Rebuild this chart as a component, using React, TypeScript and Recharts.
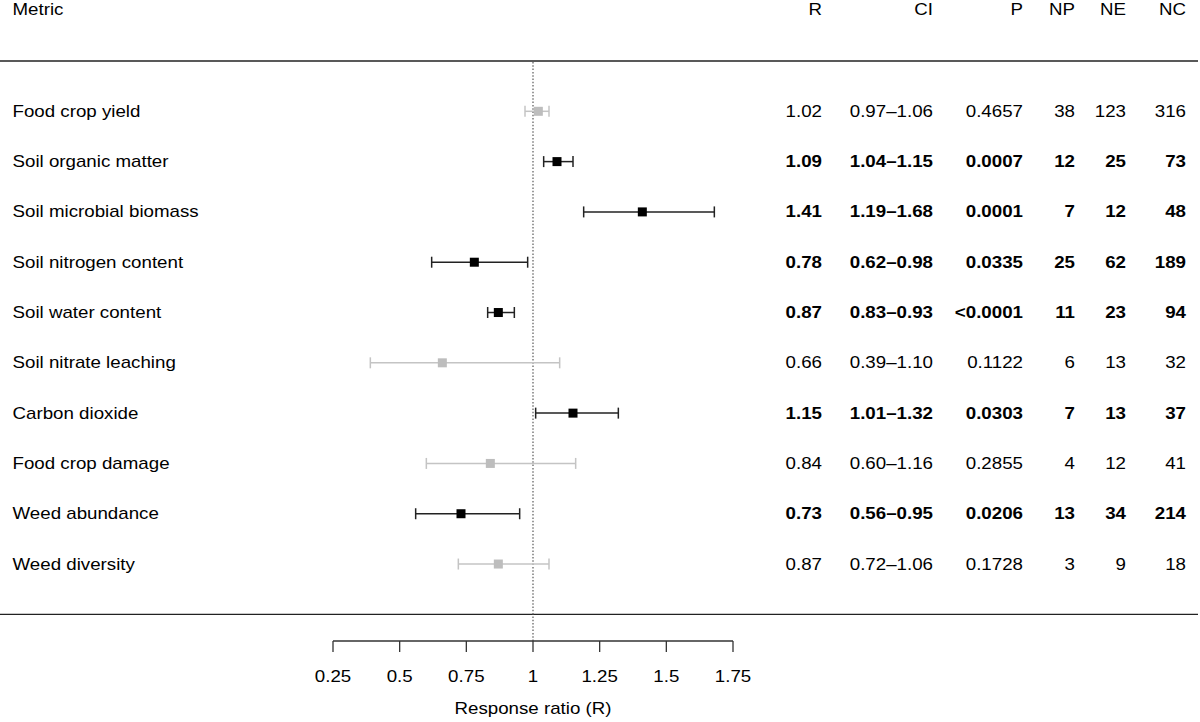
import React from "react";
import {
  ScatterChart,
  Scatter,
  XAxis,
  YAxis,
  ErrorBar,
  ReferenceLine,
} from "recharts";

// forest plot data, one entry per row
const metrics = [
  "Food crop yield",
  "Soil organic matter",
  "Soil microbial biomass",
  "Soil nitrogen content",
  "Soil water content",
  "Soil nitrate leaching",
  "Carbon dioxide",
  "Food crop damage",
  "Weed abundance",
  "Weed diversity",
];
const ratio = [1.02, 1.09, 1.41, 0.78, 0.87, 0.66, 1.15, 0.84, 0.73, 0.87];
const ciLow = [0.97, 1.04, 1.19, 0.62, 0.83, 0.39, 1.01, 0.6, 0.56, 0.72];
const ciHigh = [1.06, 1.15, 1.68, 0.98, 0.93, 1.1, 1.32, 1.16, 0.95, 1.06];
const pValues = ["0.4657", "0.0007", "0.0001", "0.0335", "<0.0001", "0.1122", "0.0303", "0.2855", "0.0206", "0.1728"];
const nP = [38, 12, 7, 25, 11, 6, 7, 4, 13, 3];
const nE = [123, 25, 12, 62, 23, 13, 13, 12, 34, 9];
const nC = [316, 73, 48, 189, 94, 32, 37, 41, 214, 18];
const xTicks = [0.25, 0.5, 0.75, 1, 1.25, 1.5, 1.75];

const W = 1200;
const H = 722;
const FONT = '"Liberation Sans", Arial, Helvetica, sans-serif';
const SX = 1.17; // the source text is a bit wide

const rows = metrics.map((name, i) => ({
  row: i + 1,
  name,
  r: ratio[i],
  err: [ratio[i] - ciLow[i], ciHigh[i] - ratio[i]],
  sig: ciLow[i] > 1 || ciHigh[i] < 1,
}));
const sigRows = rows.filter((d) => d.sig);
const nsRows = rows.filter((d) => !d.sig);

// right edges of the table columns
const cols = [
  { key: "R", x: 822 },
  { key: "CI", x: 933 },
  { key: "P", x: 1023 },
  { key: "NP", x: 1075 },
  { key: "NE", x: 1126 },
  { key: "NC", x: 1186 },
];

function Txt({ x, y, anchor = "start", bold = false, children }: any) {
  return (
    <g transform={`translate(${x},${y}) scale(${SX},1)`}>
      <text x={0} y={0} textAnchor={anchor} fontSize={16} fontFamily={FONT} fontWeight={bold ? 700 : 400} fill="#000">
        {children}
      </text>
    </g>
  );
}

function RowTick(props: any) {
  const i = props.payload.value - 1;
  const d = rows[i];
  if (!d) return null;
  const y = props.y + 5.5;
  const cells = [
    ratio[i].toFixed(2),
    `${ciLow[i].toFixed(2)}–${ciHigh[i].toFixed(2)}`,
    pValues[i],
    String(nP[i]),
    String(nE[i]),
    String(nC[i]),
  ];
  return (
    <g>
      <Txt x={12.5} y={y}>{d.name}</Txt>
      {cells.map((c, k) => (
        <Txt key={k} x={cols[k].x} y={y} anchor="end" bold={d.sig}>
          {c}
        </Txt>
      ))}
    </g>
  );
}

function XTick(props: any) {
  return (
    <Txt x={props.x} y={props.y + 29.5} anchor="middle">
      {String(props.payload.value)}
    </Txt>
  );
}

function Square(color: string) {
  return (props: any) => (
    <rect x={props.cx - 4.5} y={props.cy - 4.5} width={9} height={9} fill={color} />
  );
}

const fullRule = (p: any) => (
  <line x1={0} x2={1198} y1={p.y1} y2={p.y1} stroke="#222" strokeWidth={1.4} />
);

export default function App() {
  return (
    <div style={{ position: "absolute", left: 0, top: 0, width: W, height: H, background: "#fff" }}>
      <ScatterChart width={W} height={H} margin={{ top: 61, right: 467, bottom: 0, left: 0 }}>
        <XAxis
          type="number"
          dataKey="r"
          domain={[0.25, 1.75]}
          ticks={xTicks}
          allowDataOverflow
          height={81}
          tickSize={11}
          tickMargin={0}
          stroke="#333"
          strokeWidth={1.3}
          tick={<XTick />}
          label={{
            content: (lp: any) => (
              <Txt x={lp.viewBox.x + lp.viewBox.width / 2} y={714} anchor="middle">
                Response ratio (R)
              </Txt>
            ),
          }}
        />
        <YAxis
          type="number"
          dataKey="row"
          domain={[0, 11.53]}
          reversed
          ticks={[1, 2, 3, 4, 5, 6, 7, 8, 9, 10]}
          width={333}
          axisLine={false}
          tickLine={false}
          tick={<RowTick />}
          interval={0}
        />
        <ReferenceLine y={0} shape={fullRule} />
        <ReferenceLine y={11} shape={fullRule} />
        <ReferenceLine x={1} stroke="#666" strokeWidth={1.3} strokeDasharray="1.5 1.8" />
        <Scatter data={nsRows} shape={Square("#bdbdbd")} isAnimationActive={false}>
          <ErrorBar dataKey="err" direction="x" width={5.5} stroke="#c4c4c4" strokeWidth={1.5} />
        </Scatter>
        <Scatter data={sigRows} shape={Square("#000")} isAnimationActive={false}>
          <ErrorBar dataKey="err" direction="x" width={5.5} stroke="#222" strokeWidth={1.5} />
        </Scatter>
        <g>
          <Txt x={12.5} y={15}>Metric</Txt>
          {cols.map((c) => (
            <Txt key={c.key} x={c.x} y={15} anchor="end">
              {c.key}
            </Txt>
          ))}
        </g>
      </ScatterChart>
    </div>
  );
}
